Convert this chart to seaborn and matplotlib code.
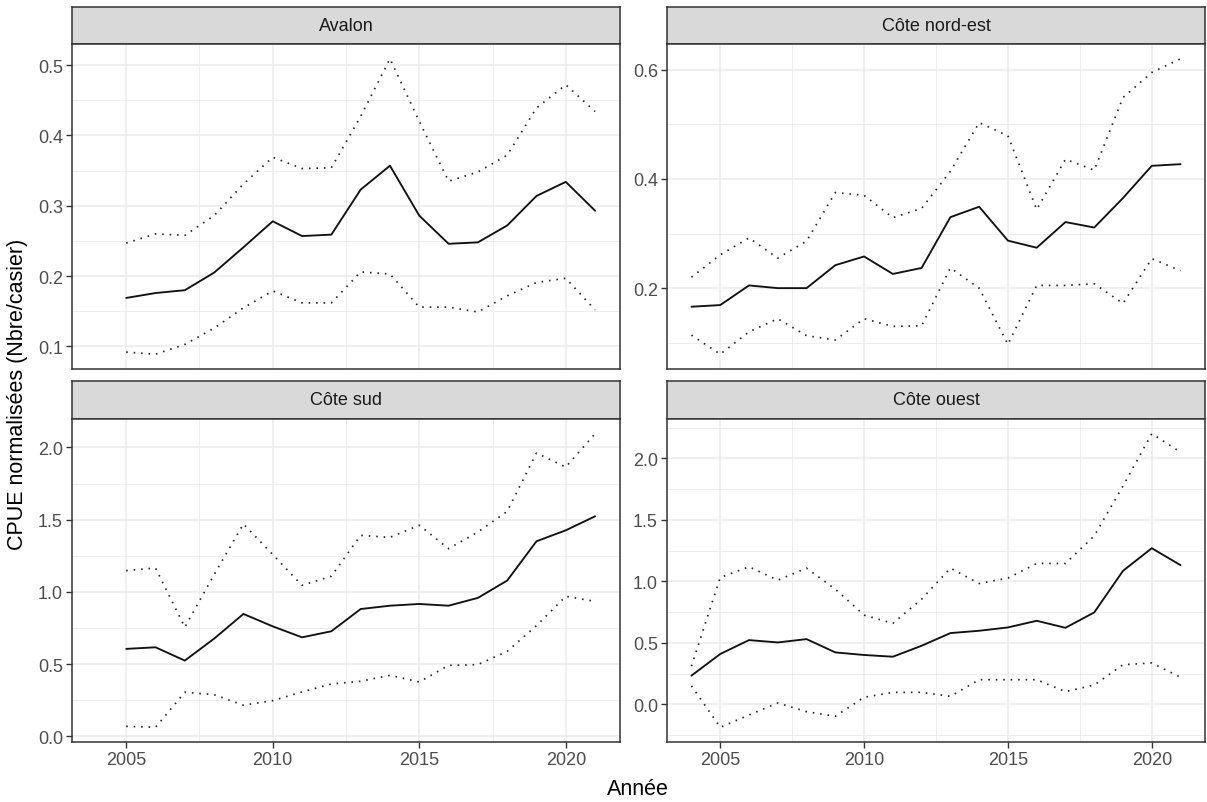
import numpy as np
import pandas as pd
import seaborn as sns
import matplotlib.pyplot as plt
from matplotlib.ticker import MultipleLocator, FormatStrFormatter

# ---------------- data ----------------
years_left = list(range(2005, 2022))
years_right = list(range(2004, 2022))

avalon_mean = [0.169, 0.176, 0.180, 0.205, 0.241, 0.278, 0.257, 0.259, 0.323, 0.357, 0.286, 0.246, 0.248, 0.272, 0.314, 0.334, 0.293]
avalon_upper = [0.247, 0.260, 0.258, 0.286, 0.331, 0.369, 0.353, 0.354, 0.427, 0.509, 0.420, 0.335, 0.348, 0.372, 0.439, 0.472, 0.434]
avalon_lower = [0.092, 0.089, 0.103, 0.126, 0.155, 0.179, 0.162, 0.162, 0.206, 0.203, 0.156, 0.156, 0.149, 0.172, 0.191, 0.197, 0.152]

ne_mean = [0.166, 0.169, 0.205, 0.200, 0.200, 0.242, 0.258, 0.226, 0.237, 0.330, 0.349, 0.287, 0.274, 0.321, 0.311, 0.365, 0.424, 0.427]
ne_upper = [0.220, 0.261, 0.292, 0.255, 0.286, 0.375, 0.370, 0.329, 0.346, 0.414, 0.503, 0.479, 0.344, 0.436, 0.416, 0.549, 0.595, 0.620]
ne_lower = [0.114, 0.079, 0.120, 0.144, 0.113, 0.105, 0.144, 0.130, 0.131, 0.237, 0.200, 0.097, 0.205, 0.205, 0.208, 0.172, 0.254, 0.232]

sud_mean = [0.605, 0.616, 0.524, 0.676, 0.847, 0.761, 0.685, 0.727, 0.881, 0.904, 0.916, 0.904, 0.958, 1.078, 1.350, 1.426, 1.523]
sud_upper = [1.147, 1.165, 0.755, 1.119, 1.470, 1.258, 1.045, 1.108, 1.391, 1.377, 1.461, 1.299, 1.414, 1.557, 1.961, 1.864, 2.095]
sud_lower = [0.069, 0.062, 0.305, 0.288, 0.215, 0.247, 0.307, 0.362, 0.381, 0.422, 0.376, 0.491, 0.496, 0.588, 0.766, 0.969, 0.934]

ouest_mean = [0.233, 0.409, 0.522, 0.503, 0.530, 0.422, 0.401, 0.387, 0.476, 0.579, 0.598, 0.625, 0.679, 0.622, 0.747, 1.085, 1.269, 1.131]
ouest_upper = [0.310, 1.031, 1.118, 1.009, 1.107, 0.936, 0.725, 0.658, 0.855, 1.107, 0.982, 1.026, 1.145, 1.145, 1.369, 1.775, 2.200, 2.050]
ouest_lower = [0.150, -0.187, -0.087, 0.011, -0.060, -0.097, 0.057, 0.097, 0.097, 0.065, 0.200, 0.200, 0.200, 0.103, 0.157, 0.322, 0.336, 0.220]

regions = ["Avalon", "Côte nord-est", "Côte sud", "Côte ouest"]
x_ticks = [2005, 2010, 2015, 2020]
x_label = "Année"
y_label = "CPUE normalisées (Nbre/casier)"

frames = []
for reg, yrs, m, u, l in [
    ("Avalon", years_left, avalon_mean, avalon_upper, avalon_lower),
    ("Côte nord-est", years_right, ne_mean, ne_upper, ne_lower),
    ("Côte sud", years_left, sud_mean, sud_upper, sud_lower),
    ("Côte ouest", years_right, ouest_mean, ouest_upper, ouest_lower),
]:
    frames.append(pd.DataFrame({"region": reg, "year": yrs, "mean": m, "upper": u, "lower": l}))
df = pd.concat(frames, ignore_index=True)

# ---------------- style ----------------
sns.set_theme(style="white")
plt.rcParams['font.family'] = ['Liberation Sans', 'DejaVu Sans']

W, H = 1207, 803
fig = plt.figure(figsize=(W / 100, H / 100), dpi=100)
fig.patch.set_facecolor("white")

BORDER = "#333333"
GRID = "#EBEBEB"

cols = [(72, 620), (667, 1205)]
rows = [(8, 45, 370), (382, 420, 743)]
major_steps = {"Avalon": 0.1, "Côte nord-est": 0.2, "Côte sud": 0.5, "Côte ouest": 0.5}

all_years = df["year"]
xr = all_years.max() - all_years.min()
xlim = (all_years.min() - 0.05 * xr, all_years.max() + 0.05 * xr)

for i, reg in enumerate(regions):
    r, c = divmod(i, 2)
    x0, x1 = cols[c]
    s_top, s_bot, a_bot = rows[r]
    sax = fig.add_axes([x0 / W, 1 - s_bot / H, (x1 - x0) / W, (s_bot - s_top) / H])
    sax.set_facecolor("#D9D9D9")
    sax.set_xticks([]); sax.set_yticks([])
    for sp in sax.spines.values():
        sp.set_color(BORDER); sp.set_linewidth(1.1); sp.set_visible(True)
    sax.text(0.5, 0.5, reg, ha="center", va="center", fontsize=13, color="#1A1A1A",
             transform=sax.transAxes)

    ax = fig.add_axes([x0 / W, 1 - a_bot / H, (x1 - x0) / W, (a_bot - s_bot) / H])
    sub = df[df["region"] == reg]
    sns.lineplot(data=sub, x="year", y="mean", ax=ax, color="#111111", lw=1.35)
    for col in ["upper", "lower"]:
        sns.lineplot(data=sub, x="year", y=col, ax=ax, color="#222222", lw=1.25,
                     linestyle=(0, (0.9, 3.4)), dash_capstyle="butt")
    vals = np.concatenate([sub["upper"].values, sub["lower"].values, sub["mean"].values])
    yr = vals.max() - vals.min()
    ax.set_ylim(vals.min() - 0.05 * yr, vals.max() + 0.05 * yr)
    ax.set_xlim(*xlim)
    ax.set_xticks(x_ticks)
    ax.xaxis.set_minor_locator(MultipleLocator(2.5))
    st = major_steps[reg]
    ax.yaxis.set_major_locator(MultipleLocator(st))
    ax.yaxis.set_minor_locator(MultipleLocator(st / 2))
    ax.yaxis.set_major_formatter(FormatStrFormatter("%.1f"))
    ax.grid(which="major", color=GRID, lw=1.1)
    ax.grid(which="minor", color=GRID, lw=0.6)
    ax.set_axisbelow(True)
    ax.set_facecolor("white")
    for sp in ax.spines.values():
        sp.set_color(BORDER); sp.set_linewidth(1.1); sp.set_visible(True)
    ax.tick_params(which="major", direction="out", length=4, width=1.0, color=BORDER,
                   labelcolor="#4D4D4D", labelsize=13, pad=2.5)
    ax.tick_params(which="minor", length=0)
    ax.tick_params(axis="x", bottom=True, left=False)
    ax.tick_params(axis="y", left=True)
    if r == 0:
        ax.tick_params(axis="x", which="both", length=0, labelbottom=False)
    ax.set_xlabel("")
    ax.set_ylabel("")

fig.text(638 / W, 1 - 790 / H, x_label, ha="center", va="center", fontsize=15.5, color="black")
fig.text(18 / W, 1 - 394 / H, y_label, ha="center", va="center", rotation=90, fontsize=15.5, color="black")

fig.savefig("out.png", dpi=100, facecolor="white")
